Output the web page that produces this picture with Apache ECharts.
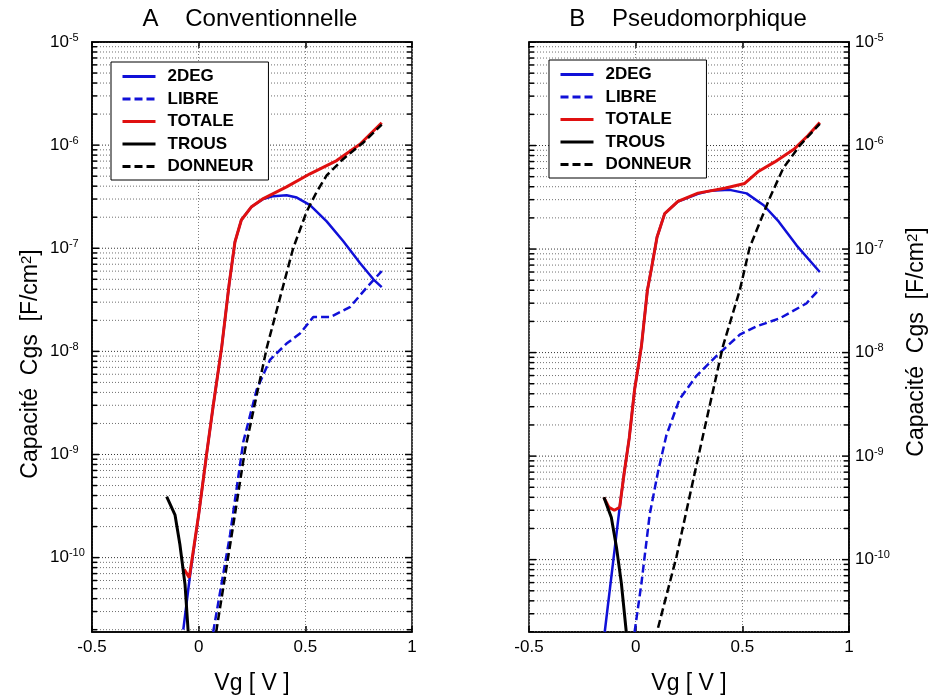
<!DOCTYPE html>
<html>
<head>
<meta charset="utf-8">
<script src="https://cdn.jsdelivr.net/npm/echarts@6.0.0/dist/echarts.min.js"></script>
<style>
html,body{margin:0;padding:0;background:#fff;}
#chart{width:930px;height:700px;}
</style>
</head>
<body>
<div id="chart"></div>
<script>
// ---------- data (Vg [V], Cgs [F/cm2]) ----------
const SERIES_NAMES = ['2DEG', 'LIBRE', 'TOTALE', 'TROUS', 'DONNEUR'];
const PANEL_TITLES = ['A    Conventionnelle', 'B    Pseudomorphique'];
const X_MIN = -0.5, X_MAX = 1, X_INTERVAL = 0.5;
const Y_MIN_A = 1.9e-11, Y_MIN_B = 2e-11, Y_MAX = 1e-5;
const MINOR_MULT = [2, 3, 4, 5, 6, 7, 8, 9];
const DECADES = [-11, -10, -9, -8, -7, -6, -5];

const A_2DEG = [[-0.072,2e-11],[-0.041,6.6e-11],[0.0,2.6e-10],[0.037,1.0e-9],[0.068,2.95e-9],[0.108,1.1e-8],[0.143,4.5e-8],[0.17,1.15e-7],[0.2,1.88e-7],[0.248,2.53e-7],[0.303,3.0e-7],[0.35,3.2e-7],[0.412,3.27e-7],[0.46,3.1e-7],[0.522,2.62e-7],[0.6,1.82e-7],[0.678,1.17e-7],[0.756,7.2e-8],[0.819,5.0e-8],[0.858,4.2e-8]];
const A_LIBRE = [[0.068,1.9e-11],[0.147,1.66e-10],[0.209,1.32e-9],[0.272,4.26e-9],[0.334,8.26e-9],[0.412,1.19e-8],[0.475,1.49e-8],[0.537,2.15e-8],[0.616,2.15e-8],[0.709,2.68e-8],[0.788,4.17e-8],[0.858,6.0e-8]];
const A_TOTALE = [[-0.068,7.7e-11],[-0.044,6.4e-11],[0.0,2.6e-10],[0.037,1.0e-9],[0.068,2.95e-9],[0.108,1.1e-8],[0.143,4.5e-8],[0.17,1.15e-7],[0.2,1.88e-7],[0.248,2.53e-7],[0.303,3.03e-7],[0.412,3.94e-7],[0.522,5.27e-7],[0.647,7.08e-7],[0.756,1.02e-6],[0.858,1.65e-6]];
const A_TROUS = [[-0.15,3.9e-10],[-0.111,2.6e-10],[-0.088,1.34e-10],[-0.064,5.5e-11],[-0.049,1.9e-11]];
const A_DONNEUR = [[0.082,1.9e-11],[0.155,1.66e-10],[0.217,1.1e-9],[0.32,1.1e-8],[0.443,1.0e-7],[0.506,2.26e-7],[0.553,3.52e-7],[0.6,5.08e-7],[0.678,7.35e-7],[0.772,1.06e-6],[0.858,1.58e-6]];

const B_2DEG = [[-0.145,2e-11],[-0.075,3.2e-10],[-0.055,6.6e-10],[-0.03,1.5e-9],[-0.005,4.4e-9],[0.027,1.15e-8],[0.055,4.0e-8],[0.074,6.5e-8],[0.1,1.3e-7],[0.136,2.2e-7],[0.198,2.87e-7],[0.292,3.42e-7],[0.35,3.65e-7],[0.441,3.73e-7],[0.52,3.45e-7],[0.6,2.65e-7],[0.67,1.85e-7],[0.755,1.08e-7],[0.863,6.0e-8]];
const B_LIBRE = [[-0.005,2.0e-11],[0.027,5.9e-11],[0.066,2.75e-10],[0.105,7.1e-10],[0.144,1.59e-9],[0.206,3.56e-9],[0.285,5.96e-9],[0.378,9.25e-9],[0.488,1.49e-8],[0.566,1.79e-8],[0.675,2.14e-8],[0.8,2.98e-8],[0.863,4.14e-8]];
const B_TOTALE = [[-0.149,4.0e-10],[-0.125,3.2e-10],[-0.1,3.0e-10],[-0.075,3.2e-10],[-0.055,6.6e-10],[-0.03,1.5e-9],[-0.005,4.4e-9],[0.027,1.15e-8],[0.055,4.0e-8],[0.074,6.5e-8],[0.1,1.3e-7],[0.136,2.2e-7],[0.198,2.89e-7],[0.292,3.47e-7],[0.417,3.87e-7],[0.511,4.3e-7],[0.573,5.58e-7],[0.652,6.95e-7],[0.745,9.33e-7],[0.808,1.25e-6],[0.863,1.67e-6]];
const B_TROUS = [[-0.149,4.0e-10],[-0.114,2.55e-10],[-0.09,1.32e-10],[-0.067,5.9e-11],[-0.044,2.0e-11]];
const B_DONNEUR = [[0.105,2.2e-11],[0.191,1.06e-10],[0.285,8.2e-10],[0.316,1.59e-9],[0.409,1.15e-8],[0.488,4.0e-8],[0.534,1.03e-7],[0.566,1.5e-7],[0.628,3.1e-7],[0.691,6.0e-7],[0.769,1.0e-6],[0.863,1.62e-6]];

// ---------- styling ----------
const FONT = '"Liberation Sans", Arial, Helvetica, sans-serif';
const BLUE = '#1010d8', RED = '#e01010', BLACK = '#000000';
const DASH = [8, 4];
const STYLES = {
  '2DEG':    {color: BLUE,  width: 2.5, type: 'solid'},
  'LIBRE':   {color: BLUE,  width: 2.5, type: DASH},
  'TOTALE':  {color: RED,   width: 3,   type: 'solid'},
  'TROUS':   {color: BLACK, width: 3,   type: 'solid'},
  'DONNEUR': {color: BLACK, width: 2.5, type: DASH}
};
const PANEL_DATA = [
  [A_2DEG, A_LIBRE, A_TOTALE, A_TROUS, A_DONNEUR],
  [B_2DEG, B_LIBRE, B_TOTALE, B_TROUS, B_DONNEUR]
];

function gridTickValues(ymin) {
  const out = [];
  DECADES.forEach(e => {
    const base = Math.pow(10, e);
    out.push([X_MIN, base, 1]);
    MINOR_MULT.forEach(m => out.push([X_MIN, m * base, 0]));
  });
  return out.filter(d => d[1] >= ymin * 0.999 && d[1] <= Y_MAX * 1.001);
}

function yLabel(v) {
  const e = v > 0 ? Math.log10(v) : v;
  const r = Math.round(e);
  if (Math.abs(e - r) > 0.01) return '';
  return '{b|10}{s|' + r + '}';
}
const Y_RICH = {
  b: {fontSize: 17, fontFamily: FONT, color: '#000', lineHeight: 20},
  s: {fontSize: 11, fontFamily: FONT, color: '#000', verticalAlign: 'top', lineHeight: 12}
};

const grids = [
  {left: 92, top: 42, width: 320, height: 597},
  {left: 529, top: 42, width: 320, height: 597}
].map(g => Object.assign(g, {show: true, borderColor: '#000', borderWidth: 1.5, backgroundColor: 'transparent', containLabel: false}));

const xAxes = [];
const yAxes = [];
[0, 1].forEach(p => {
  xAxes.push({
    type: 'value', gridIndex: p, position: 'bottom', min: X_MIN, max: X_MAX, interval: X_INTERVAL,
    name: 'Vg [ V ]', nameLocation: 'middle', nameGap: 40,
    nameTextStyle: {fontSize: 23, fontFamily: FONT, color: '#000'},
    axisLine: {show: true, onZero: false, lineStyle: {color: '#000', width: 1.5}},
    axisTick: {show: true, inside: true, length: 6, lineStyle: {color: '#000', width: 1.5}},
    axisLabel: {show: true, fontSize: 17, fontFamily: FONT, color: '#000', margin: 7,
      formatter: v => String(v)},
    splitLine: {show: true, lineStyle: {color: '#808080', type: [1, 2], width: 1}}
  });
  xAxes.push({
    type: 'value', gridIndex: p, position: 'top', min: X_MIN, max: X_MAX, interval: X_INTERVAL,
    axisLine: {show: true, onZero: false, lineStyle: {color: '#000', width: 1.5}},
    axisTick: {show: true, inside: true, length: 6, lineStyle: {color: '#000', width: 1.5}},
    axisLabel: {show: false}, splitLine: {show: false}
  });
  yAxes.push({
    type: 'log', gridIndex: p, position: p === 0 ? 'left' : 'right',
    min: p === 0 ? Y_MIN_A : Y_MIN_B, max: Y_MAX, logBase: 10, splitNumber: 6,
    axisLine: {show: true, onZero: false, lineStyle: {color: '#000', width: 1.5}},
    axisTick: {show: false},
    axisLabel: {show: true, formatter: yLabel, rich: Y_RICH, margin: p === 0 ? 42 : 6,
      align: 'left', showMinLabel: true, showMaxLabel: true, hideOverlap: false},
    splitLine: {show: false},
    minorTick: {show: false}, minorSplitLine: {show: false}
  });
});

const series = [];
[0, 1].forEach(p => {
  // grid lines and edge ticks at decade / sub-decade values (drawn through the log axis)
  series.push({
    type: 'custom', name: 'grid' + p, xAxisIndex: 2 * p, yAxisIndex: p, z: 1, silent: true,
    animation: false, clip: true,
    encode: {x: 0, y: 1},
    data: gridTickValues(p === 0 ? Y_MIN_A : Y_MIN_B),
    renderItem(params, api) {
      const v = api.value(1);
      const major = api.value(2) === 1;
      const p0 = api.coord([X_MIN, v]);
      const p1 = api.coord([X_MAX, v]);
      const len = major ? 7 : 5;
      const children = [
        {type: 'line', shape: {x1: p0[0] + len, y1: p0[1], x2: p1[0] - len, y2: p1[1]},
          style: {stroke: major ? '#333' : '#707070', lineWidth: 1, lineDash: [1, 2]}},
        {type: 'line', shape: {x1: p0[0], y1: p0[1], x2: p0[0] + len, y2: p0[1]},
          style: {stroke: '#000', lineWidth: 1.5}},
        {type: 'line', shape: {x1: p1[0] - len, y1: p1[1], x2: p1[0], y2: p1[1]},
          style: {stroke: '#000', lineWidth: 1.5}}
      ];
      return {type: 'group', children};
    }
  });
  SERIES_NAMES.forEach((name, i) => {
    const st = STYLES[name];
    series.push({
      type: 'line', name, xAxisIndex: 2 * p, yAxisIndex: p,
      data: PANEL_DATA[p][i], symbol: 'none', showSymbol: false, smooth: false,
      animation: false, clip: true, z: 3 + i, color: st.color,
      lineStyle: {color: st.color, width: st.width, type: st.type},
      emphasis: {disabled: true}
    });
  });
});

const legendBase = {
  orient: 'vertical', data: SERIES_NAMES, selectedMode: false,
  itemWidth: 33, itemHeight: 14, itemGap: 5.5,
  padding: [6, 15, 5, 10],
  borderColor: '#000', borderWidth: 1, borderRadius: 0, backgroundColor: '#fff',
  itemStyle: {opacity: 0, borderWidth: 0},
  lineStyle: {width: 3},
  textStyle: {fontSize: 17, fontWeight: 'bold', fontFamily: FONT, color: '#000', lineHeight: 14, padding: [0, 0, 0, 7]}
};
const legends = [
  Object.assign({}, legendBase, {left: 111, top: 62}),
  Object.assign({}, legendBase, {left: 549, top: 60})
];

function textEl(x, y, text, size, rot, rich) {
  return {
    type: 'text', x, y, rotation: rot || 0, silent: true,
    style: {text, fontSize: size, fontFamily: FONT, fill: '#000',
      align: 'center', verticalAlign: 'middle', textAlign: 'center', textVerticalAlign: 'middle',
      rich: rich || undefined}
  };
}
const NAME_RICH = {s: {fontSize: 15, fontFamily: FONT, fill: '#000', verticalAlign: 'top'}};
const Y_NAME = 'Capacité  Cgs  [F/cm{s|2}]';

const option = {
  backgroundColor: '#fff',
  animation: false,
  grid: grids,
  xAxis: xAxes,
  yAxis: yAxes,
  legend: legends,
  series,
  graphic: [
    textEl(250, 19, PANEL_TITLES[0], 24, 0),
    textEl(688, 19, PANEL_TITLES[1], 24, 0),
    textEl(31, 364, Y_NAME, 23, Math.PI / 2, NAME_RICH),
    textEl(917, 342, Y_NAME, 23, Math.PI / 2, NAME_RICH)
  ]
};

const chart = echarts.init(document.getElementById('chart'), null, {renderer: 'canvas'});
chart.setOption(option);
</script>
</body>
</html>
